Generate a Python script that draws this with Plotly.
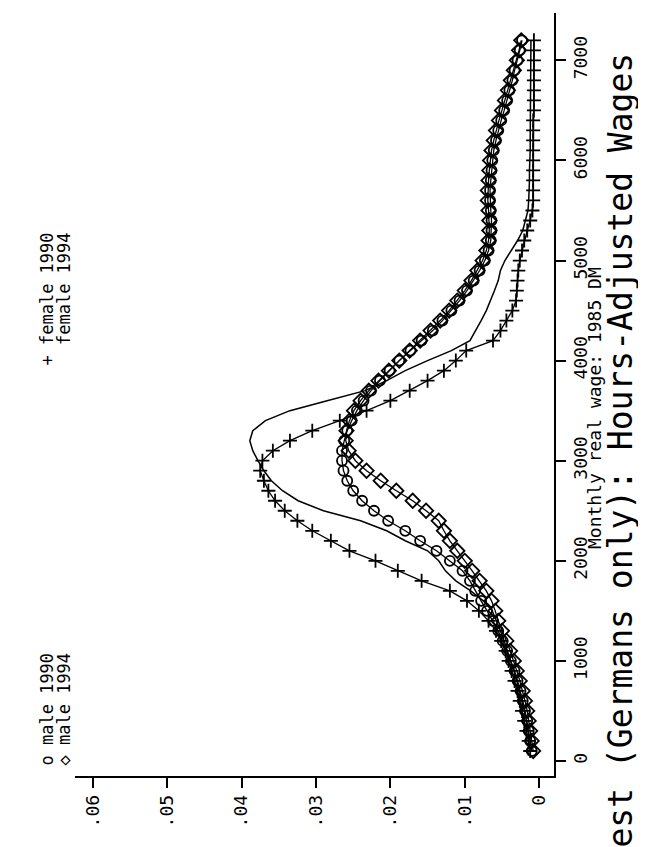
import plotly.graph_objects as go

# ---- data (wage in 1985 DM, kernel density) ----
wage = [100, 200, 300, 400, 500, 600, 700, 800, 900, 1000,
        1100, 1200, 1300, 1400, 1500, 1600, 1700, 1800, 1900, 2000,
        2100, 2200, 2300, 2400, 2500, 2600, 2700, 2800, 2900, 3000,
        3100, 3200, 3300, 3400, 3500, 3600, 3700, 3800, 3900, 4000,
        4100, 4200, 4300, 4400, 4500, 4600, 4700, 4800, 4900, 5000,
        5100, 5200, 5300, 5400, 5500, 5600, 5700, 5800, 5900, 6000,
        6100, 6200, 6300, 6400, 6500, 6600, 6700, 6800, 6900, 7000,
        7100, 7200]

male_1990 = [.0010, .0012, .0014, .0016, .0019, .0022, .0025, .0029, .0033, .0038,
             .0043, .0049, .0055, .0062, .0070, .0078, .0086, .0093, .0103, .0120,
             .0138, .0160, .0180, .0203, .0222, .0238, .0250, .0258, .0263, .0265,
             .0265, .0262, .0258, .0252, .0245, .0236, .0226, .0214, .0201, .0188,
             .0173, .0158, .0143, .0130, .0118, .0107, .0097, .0088, .0080, .0073,
             .0068, .0065, .0064, .0064, .0065, .0066, .0066, .0065, .0064, .0063,
             .0061, .0058, .0055, .0051, .0047, .0043, .0040, .0036, .0033, .0029,
             .0026, .0023]

male_1994 = [.0008, .0010, .0012, .0014, .0016, .0019, .0022, .0026, .0030, .0034,
             .0039, .0044, .0050, .0055, .0059, .0064, .0071, .0080, .0090, .0100,
             .0110, .0120, .0128, .0135, .0152, .0170, .0192, .0213, .0232, .0247,
             .0256, .0260, .0259, .0255, .0249, .0240, .0229, .0216, .0202, .0188,
             .0174, .0160, .0146, .0133, .0121, .0110, .0100, .0091, .0083, .0076,
             .0071, .0068, .0067, .0067, .0068, .0069, .0069, .0068, .0067, .0066,
             .0064, .0061, .0058, .0054, .0050, .0046, .0042, .0038, .0034, .0030,
             .0027, .0024]

female_1990 = [.0012, .0014, .0017, .0020, .0023, .0026, .0029, .0033, .0037, .0041,
               .0045, .0051, .0058, .0068, .0081, .0097, .0120, .0158, .0190, .0220,
               .0255, .0280, .0305, .0325, .0342, .0355, .0364, .0370, .0375, .0372,
               .0358, .0335, .0305, .0268, .0232, .0200, .0174, .0150, .0128, .0112,
               .0098, .0062, .0052, .0044, .0036, .0031, .0030, .0029, .0028, .0026,
               .0023, .0020, .0016, .0012, .0009, .0008, .0008, .0008, .0008, .0008,
               .0008, .0008, .0008, .0008, .0007, .0007, .0007, .0007, .0007, .0007,
               .0007, .0007]

female_1994 = [.0010, .0012, .0014, .0017, .0020, .0023, .0026, .0030, .0034, .0038,
               .0042, .0047, .0052, .0057, .0063, .0075, .0092, .0112, .0126, .0135,
               .0150, .0180, .0205, .0240, .0290, .0324, .0345, .0360, .0370, .0378,
               .0385, .0389, .0385, .0368, .0335, .0285, .0234, .0205, .0180, .0150,
               .0118, .0093, .0085, .0078, .0071, .0065, .0060, .0055, .0052, .0046,
               .0037, .0029, .0022, .0018, .0015, .0014, .0013, .0013, .0013, .0012,
               .0012, .0012, .0012, .0012, .0012, .0011, .0011, .0011, .0011, .0011,
               .0011, .0011]

density_ticks = [0, .01, .02, .03, .04, .05, .06]
density_labels = ["0", ".01", ".02", ".03", ".04", ".05", ".06"]
wage_ticks = [0, 1000, 2000, 3000, 4000, 5000, 6000, 7000]
wage_labels = ["0", "1000", "2000", "3000", "4000", "5000", "6000", "7000"]

# ---- layout geometry (pixels) ----
W, H = 646, 847
L, R, T, B = 67, 546, 5, 768   # plot-area edges
FONT = "DejaVu Sans Mono"

def px(xp):
    return (xp - L) / (R - L)

def py(yp):
    return (B - yp) / (B - T)

fig = go.Figure()

line = dict(color="black", width=1.3)
fig.add_trace(go.Scatter(x=male_1990, y=wage, mode="lines+markers", name="male 1990",
                         line=line,
                         marker=dict(symbol="circle-open", size=10, color="black",
                                     line=dict(width=1.8, color="black"))))
fig.add_trace(go.Scatter(x=male_1994, y=wage, mode="lines+markers", name="male 1994",
                         line=line,
                         marker=dict(symbol="diamond-open", size=11, color="black",
                                     line=dict(width=1.8, color="black"))))
fig.add_trace(go.Scatter(x=female_1990, y=wage, mode="lines+markers", name="female 1990",
                         line=line,
                         marker=dict(symbol="cross-thin-open", size=10, color="black",
                                     line=dict(width=1.8, color="black"))))
fig.add_trace(go.Scatter(x=female_1994, y=wage, mode="lines", name="female 1994",
                         line=dict(color="black", width=1.5)))

fig.update_layout(
    width=W, height=H,
    margin=dict(l=L, r=W - R, t=T, b=H - B, pad=0),
    paper_bgcolor="white", plot_bgcolor="white",
    showlegend=False,
    font=dict(family=FONT, color="black", size=17),
    xaxis=dict(range=[0.0624, -0.0020], tickvals=density_ticks, ticktext=density_labels,
               tickangle=-90, ticks="outside", ticklen=10, tickwidth=1.5, tickcolor="black",
               showline=True, linecolor="black", linewidth=1.5, showgrid=False,
               zeroline=False, tickfont=dict(family=FONT, size=18)),
    yaxis=dict(range=[-150, 7473], side="right", tickvals=wage_ticks, ticktext=wage_labels,
               tickangle=-90, ticks="outside", ticklen=10, tickwidth=1.5, tickcolor="black",
               showline=True, linecolor="black", linewidth=1.5, showgrid=False,
               zeroline=False, tickfont=dict(family=FONT, size=18)),
)

ann = []
ann.append(dict(text="Monthly real wage: 1985 DM", x=px(586), y=py(400), xref="paper", yref="paper",
                textangle=-90, showarrow=False, font=dict(family=FONT, size=18),
                xanchor="center", yanchor="middle"))
ann.append(dict(text="est (Germans only): Hours-Adjusted Wages", x=px(612), y=py(842), xref="paper",
                yref="paper", textangle=-90, showarrow=False, font=dict(family=FONT, size=33),
                xanchor="center", yanchor="bottom"))
# key (sits above the plot box in the unrotated graph, i.e. left of it here)
key_font = dict(family=FONT, size=17)
ann.append(dict(text="o male 1990", x=px(38), y=py(760), xref="paper", yref="paper",
                textangle=-90, showarrow=False, font=key_font,
                xanchor="center", yanchor="bottom"))
ann.append(dict(text="\u25c7 male 1994", x=px(55), y=py(760), xref="paper", yref="paper",
                textangle=-90, showarrow=False, font=key_font,
                xanchor="center", yanchor="bottom"))
ann.append(dict(text="+ female 1990", x=px(38), y=py(360), xref="paper", yref="paper",
                textangle=-90, showarrow=False, font=key_font,
                xanchor="center", yanchor="bottom"))
ann.append(dict(text="  female 1994", x=px(55), y=py(360), xref="paper", yref="paper",
                textangle=-90, showarrow=False, font=key_font,
                xanchor="center", yanchor="bottom"))
fig.update_layout(annotations=ann)

fig.write_html("out.html")
